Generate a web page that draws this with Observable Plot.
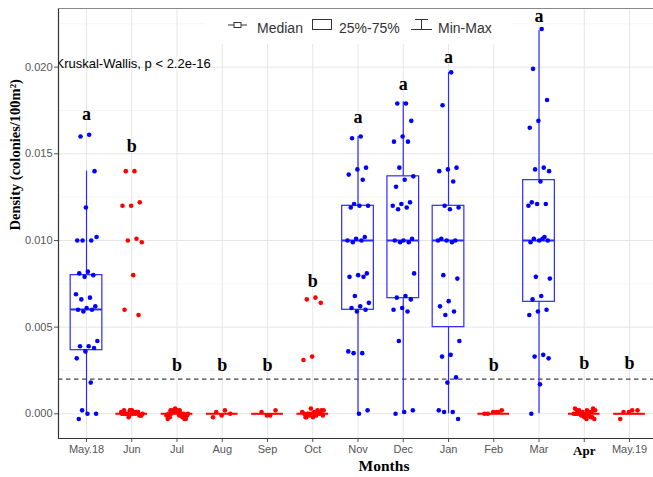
<!DOCTYPE html>
<html><head><meta charset="utf-8">
<script src="https://cdn.jsdelivr.net/npm/d3@7"></script>
<script src="https://cdn.jsdelivr.net/npm/@observablehq/plot@0.6"></script>
<style>body{margin:0;background:#fff}#chart{width:653px;height:477px}</style>
</head><body><div id="chart"></div>
<script>
// ---- data ----
const months = ["May.18","Jun","Jul","Aug","Sep","Oct","Nov","Dec","Jan","Feb","Mar","Apr","May.19"];
const sigLetters = ["a","b","b","b","b","b","a","a","a","b","a","b","b"];
const sigY = [0.0173,0.01546,0.0028,0.0028,0.0028,0.00767,0.0171,0.0190,0.02056,0.0028,0.02296,0.0029,0.0029];

const vMay18 = [0.0161,0.0160,0.0140,0.0119,0.0100,0.0100,0.0100,0.0102,0.0082,0.0081,0.0080,0.0079,0.0069,0.0067,0.0066,0.0062,0.0061,0.0060,0.0060,0.0059,0.0042,0.0039,0.0039,0.0038,0.0036,0.0032,0.0018,0.0002,0.0000,0.0000,-0.0003];
const vJun = [0.0140,0.0140,0.0122,0.0120,0.0120,0.0101,0.0100,0.0099,0.0080,0.0060,0.0057,0.0002,0.0001,0,0,-0.0001,0.0002,0,0.0001,-0.0002,0,0.0001,0,-0.0001,0.0002,0,0.0001,0,-0.0001,0,0.0002,0.0001,-0.0001];
const vJul = [0.0002,0,-0.0002,0.0001,-0.0003,0,0.0002,-0.0001,0.0001,-0.0002,0,0.0003,-0.0001,0,0.0001,-0.0003,0.0002,0,-0.0002,0.0001,0,-0.0001,0.0002,-0.0003];
const vAug = [0.0002,0.0001,0.0000,-0.0001,-0.0002];
const vSep = [-0.0001,0.0001,0.0002,-0.0001];
const vOct = [0.0067,0.0066,0.0064,0.0033,0.0031,0.0002,0,-0.0001,0.0001,-0.0002,0,0.0003,0.0001,-0.0001,0,0.0002,-0.0002,0,0.0001,-0.0001,0.0002,0,-0.0002,0.0001,0];
const vNov = [0.0160,0.0159,0.0142,0.0141,0.0138,0.0135,0.0121,0.0120,0.0120,0.0119,0.0102,0.0101,0.0100,0.0100,0.0099,0.0081,0.0080,0.0079,0.0079,0.0068,0.0064,0.0062,0.0061,0.0060,0.0059,0.0036,0.0035,0.0035,0.0002,0.0000];
const vDec = [0.0179,0.0179,0.0169,0.0160,0.0157,0.0157,0.0142,0.0137,0.0135,0.0131,0.0122,0.0121,0.0120,0.0119,0.0118,0.0101,0.0100,0.0100,0.0099,0.0099,0.0081,0.0068,0.0067,0.0066,0.0061,0.0060,0.0059,0.0042,0.0002,0.0001,0.0000];
const vJan = [0.0197,0.0178,0.0142,0.0141,0.0140,0.0134,0.0120,0.0119,0.0118,0.0101,0.0100,0.0100,0.0100,0.0099,0.0080,0.0078,0.0065,0.0062,0.0059,0.0057,0.0042,0.0034,0.0033,0.0021,0.0018,0.0002,0.0001,0.0001,-0.0003];
const vFeb = [0.0001,0.0000,0.0002,0.0001,0.0000,0.0001];
const vMar = [0.0222,0.0199,0.0181,0.0169,0.0165,0.0142,0.0141,0.0140,0.0134,0.0122,0.0121,0.0121,0.0120,0.0101,0.0101,0.0100,0.0100,0.0099,0.0102,0.0079,0.0078,0.0068,0.0066,0.0060,0.0059,0.0057,0.0034,0.0033,0.0032,0.0017,0.0000];
const vApr = [0.0002,0.0001,-0.0002,0,0.0003,-0.0001,0.0001,-0.0003,0,0.0002,-0.0002,0.0001,0,-0.0001,0.0002,0.0003,-0.0002,0,0.0001,-0.0001,0.0002,-0.0003,0,0.0001,-0.0001];
const vMay19 = [0.0002,0.0001,0.0002,0.0001,-0.0003];

// box statistics
const q1 = [0.00367,0,0,0,0,0,0.0060,0.00667,0.0050,0,0.00646,0,0];
const median = [0.00602,0,0,0,0,0,0.0100,0.0100,0.0100,0,0.0100,0,0];
const q3 = [0.0080,0,0,0,0,0,0.0120,0.0137,0.0120,0,0.01348,0,0];
const whiskerLo = [0,0,0,0,0,0,0,0,0,0,0,0,0];
const whiskerHi = [0.0140,0,0,0,0,0,0.0160,0.0180,0.0197,0,0.0221,0,0];

const threshold = 0.002;
const yTicks = [0,0.005,0.010,0.015,0.020];
const yMinor = [0.0025,0.0075,0.0125,0.0175,0.0225];
const kwText = "Kruskal-Wallis, p < 2.2e-16";
const yTitle = "Density (colonies/100m²)";
const xTitle = "Months";
const legendItems = ["Median", "25%-75%", "Min-Max"];

// ---- build tables ----
const series = [vMay18,vJun,vJul,vAug,vSep,vOct,vNov,vDec,vJan,vFeb,vMar,vApr,vMay19];
const idx = months.map((_, i) => i);
const jit = i => ((((i + 1) * 0.6180339887) % 1) - 0.5) * 0.5;
const points = series.flatMap((vals, m) => vals.map((v, i) => ({m, v, x: m + jit(i), g: sigLetters[m]})));
const boxes = idx.map(i => ({i, g: sigLetters[i], q1: q1[i], med: median[i], q3: q3[i], lo: whiskerLo[i], hi: whiskerHi[i]}));
const hw = 0.35;
const xDomain = [-0.619, 12.53];
const yDomain = [-0.001425, 0.023383];
const colors = {domain: ["a","b"], range: ["#0000ff","#ff0000"]};
const boxStroke = g => g === "a" ? "#2b2bff" : "#ff0000";
const serif = "'Liberation Serif', 'Times New Roman', serif";

const chart = Plot.plot({
  width: 653, height: 477,
  marginLeft: 58, marginRight: 0, marginTop: 8, marginBottom: 39,
  style: {fontFamily: "'Liberation Sans', Arial, sans-serif", fontSize: "11px", background: "#fff"},
  x: {domain: xDomain},
  y: {domain: yDomain},
  color: colors,
  marks: [
    Plot.ruleY(yMinor, {stroke: "#f0f0f0", strokeWidth: 0.7}),
    Plot.ruleY(yTicks, {stroke: "#e6e6e6", strokeWidth: 1}),
    Plot.ruleX(idx, {stroke: "#e6e6e6", strokeWidth: 1}),
    Plot.ruleY([threshold], {stroke: "#444", strokeWidth: 1.1, strokeDasharray: "4.5,3.5"}),
    Plot.ruleX(boxes, {x: "i", y1: "lo", y2: "q1", stroke: d => boxStroke(d.g), strokeWidth: 1.2}),
    Plot.ruleX(boxes, {x: "i", y1: "q3", y2: "hi", stroke: d => boxStroke(d.g), strokeWidth: 1.2}),
    Plot.rect(boxes, {x1: d => d.i - hw, x2: d => d.i + hw, y1: "q1", y2: "q3", fill: "none", stroke: d => boxStroke(d.g), strokeWidth: 1.2}),
    Plot.ruleY(boxes, {y: "med", x1: d => d.i - hw, x2: d => d.i + hw, stroke: d => boxStroke(d.g), strokeWidth: 2}),
    Plot.dot(points, {x: "x", y: "v", fill: "g", r: 2.3, stroke: null}),
    Plot.text(idx, {x: i => i, y: i => sigY[i], text: i => sigLetters[i], fontFamily: serif, fontWeight: "bold", fontSize: 18, fill: "#000"}),
    Plot.text([kwText], {frameAnchor: "top-left", textAnchor: "start", lineAnchor: "middle", dx: -3, dy: 55, fontSize: 13, fill: "#000", clip: true}),
    Plot.axisY(yTicks, {tickFormat: d3.format(".3f"), tickSize: 4, tickPadding: 2, fontSize: 11, color: "#555", label: null}),
    Plot.axisX(idx, {tickFormat: i => months[i], tickSize: 4, tickPadding: 3, fontSize: 11, color: "#555", label: null}),
    Plot.ruleX([xDomain[0]], {stroke: "#333", strokeWidth: 1.2}),
    Plot.ruleY([yDomain[0]], {stroke: "#333", strokeWidth: 1.2}),
    Plot.ruleY([yDomain[1]], {stroke: "#888", strokeWidth: 1}),
    Plot.text([yTitle], {frameAnchor: "left", rotate: -90, dx: -43, dy: 7, fontFamily: serif, fontWeight: "bold", fontSize: 14.5, fill: "#000"}),
    Plot.text([xTitle], {frameAnchor: "bottom", lineAnchor: "middle", dx: 28, dy: 28, fontFamily: serif, fontWeight: "bold", fontSize: 15.5, fill: "#000"})
  ]
});
document.getElementById("chart").append(chart);

// special "Apr" tick label styling as in the reference
const svg = d3.select(chart);
svg.selectAll("text").filter(function(){ return this.textContent === "Apr"; })
  .style("font-family", serif).style("font-weight", "bold")
  .style("fill", "#000").style("font-size", "13px");

// legend
const lg = svg.append("g");
lg.append("rect").attr("x", 205).attr("y", 9).attr("width", 305).attr("height", 35).attr("fill", "#fff");
const ink = "#333";
lg.append("line").attr("x1", 228).attr("x2", 247).attr("y1", 25).attr("y2", 25).attr("stroke", ink);
lg.append("rect").attr("x", 234).attr("y", 22.5).attr("width", 7).attr("height", 5).attr("fill", "#fff").attr("stroke", ink);
lg.append("rect").attr("x", 312.5).attr("y", 19.5).attr("width", 19).attr("height", 10).attr("fill", "none").attr("stroke", ink);
lg.append("line").attr("x1", 415).attr("x2", 428).attr("y1", 19.5).attr("y2", 19.5).attr("stroke", ink);
lg.append("line").attr("x1", 421.5).attr("x2", 421.5).attr("y1", 19.5).attr("y2", 29.5).attr("stroke", ink);
lg.append("line").attr("x1", 411).attr("x2", 432).attr("y1", 29.5).attr("y2", 29.5).attr("stroke", ink);
[[legendItems[0], 257], [legendItems[1], 339], [legendItems[2], 438]].forEach(([t, x]) => {
  lg.append("text").attr("x", x).attr("y", 28).attr("dy", "0.35em").attr("fill", ink)
    .attr("text-anchor", "start")
    .style("font-family", "'Liberation Sans', Arial, sans-serif").style("font-size", "14px").text(t);
});
</script></body></html>
